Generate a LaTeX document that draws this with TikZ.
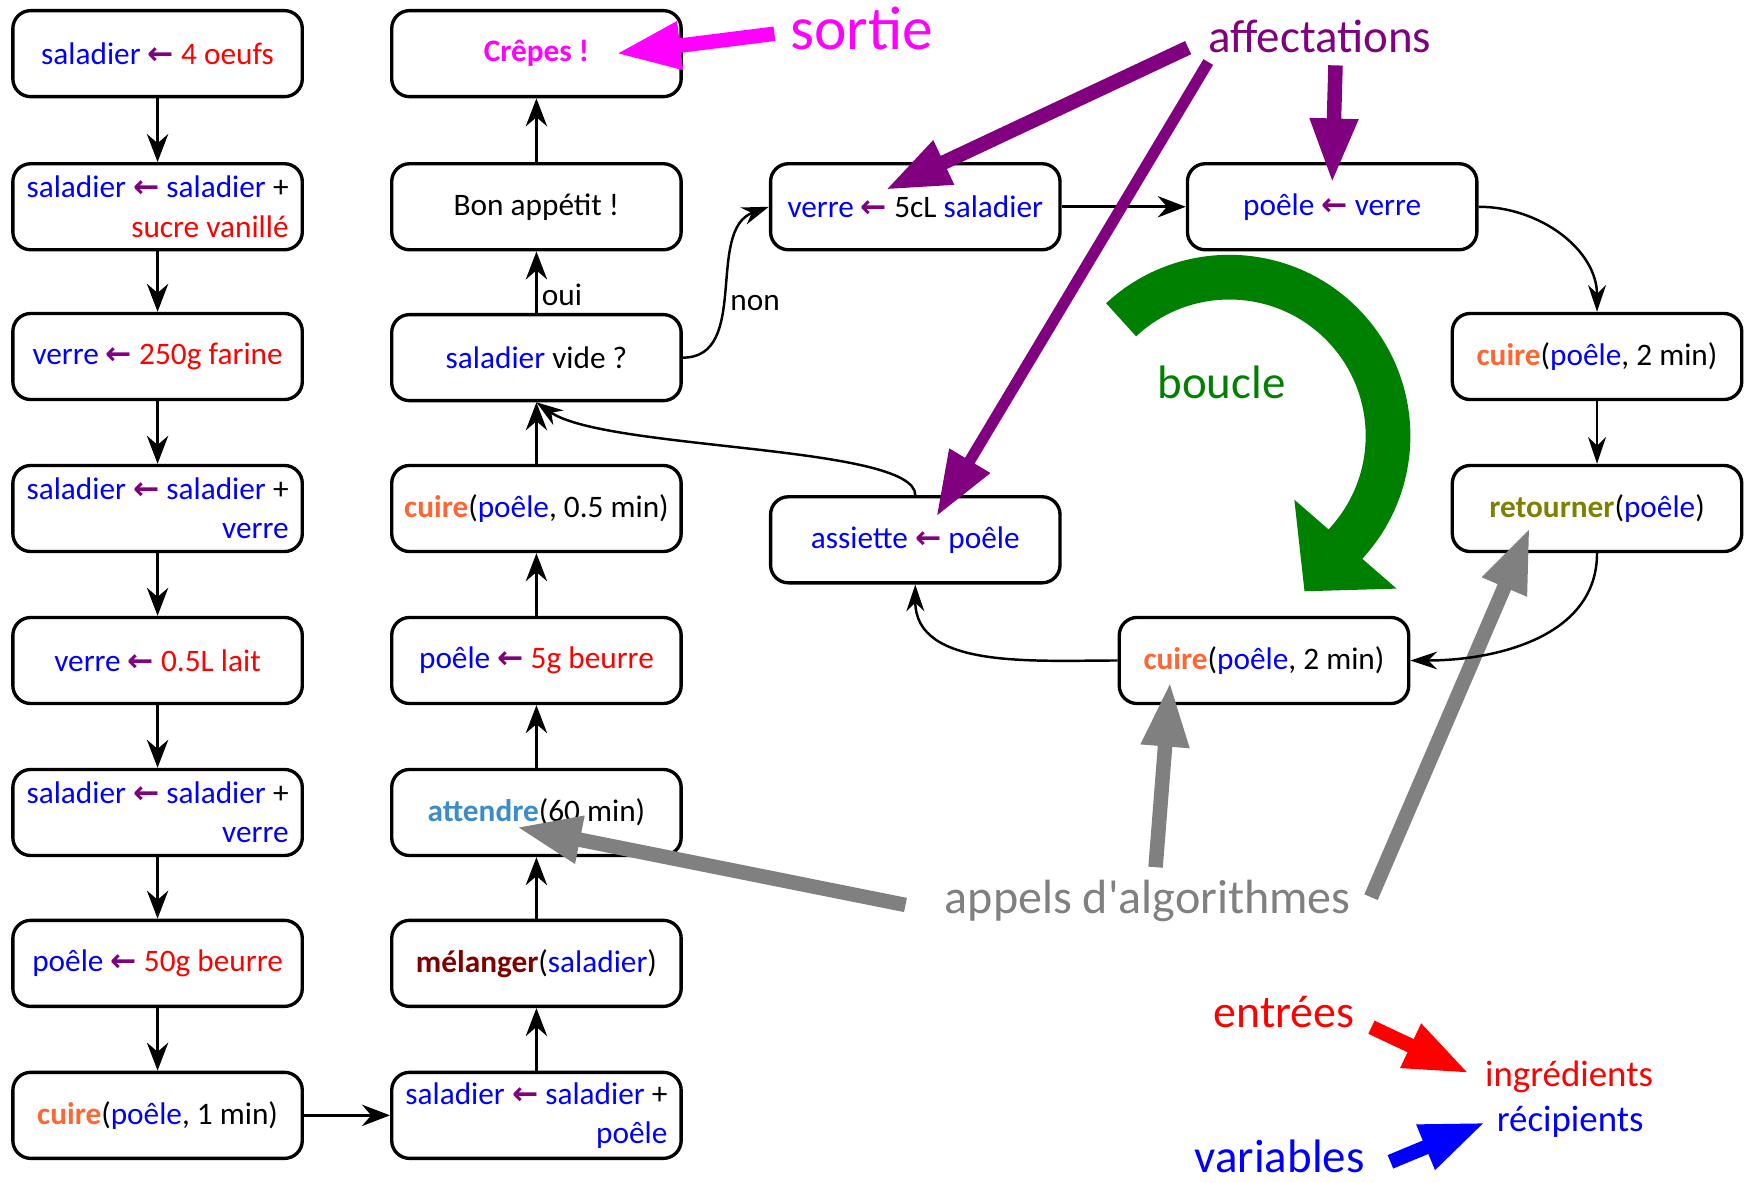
\documentclass[tikz,border=0pt]{standalone}
\usepackage{fontspec}
\setmainfont{Carlito}
\newfontfamily\arrowfont{DejaVu Sans}
\usetikzlibrary{arrows.meta}
\definecolor{varblue}{RGB}{0,0,255}
\definecolor{ingred}{RGB}{255,0,0}
\definecolor{affpurple}{RGB}{128,0,128}
\definecolor{outmag}{RGB}{255,0,255}
\definecolor{cookorange}{RGB}{255,102,51}
\definecolor{waitblue}{RGB}{60,140,200}
\definecolor{mixred}{RGB}{128,0,0}
\definecolor{flipolive}{RGB}{128,128,0}
\definecolor{loopgreen}{RGB}{0,128,0}
\definecolor{callgray}{RGB}{128,128,128}
\newcommand{\va}[1]{\textcolor{varblue}{#1}}
\newcommand{\ing}[1]{\textcolor{ingred}{#1}}
\newcommand{\asg}{\textcolor{affpurple}{\arrowfont\bfseries ←}}
\newcommand{\fn}[2]{\textcolor{#1}{\bfseries #2}}

\begin{document}
\begin{tikzpicture}[x=1pt,y=1pt,
        box/.style={draw,line width=3pt,rounded corners=16pt,fill=white,minimum width=259pt,minimum height=77pt,align=center,font=\fontsize{28}{35}\selectfont},
        arr/.style={line width=3pt,-{Stealth[length=25pt,width=19pt]}},
        tarr/.style={line width=2.2pt,-{Stealth[length=24pt,width=16pt]}},
        note/.style={line width=13pt,-{Triangle[length=58pt,width=40pt]}},
        cond/.style={font=\fontsize{28}{35}\selectfont},
        tag/.style={inner sep=0pt,anchor=base}]
        \useasboundingbox (0,0) rectangle (1565,-1058);
        \node[box](bowla) at (141,-48) {\va{saladier} \asg{} \ing{4 oeufs}};
        \node[box,align=right](bowlb) at (141,-185) {\va{saladier} \asg{} \va{saladier} +\\\ing{sucre vanillé}};
        \node[box](glassa) at (141,-319) {\va{verre} \asg{} \ing{250g farine}};
        \node[box,align=right](bowlc) at (141,-455) {\va{saladier} \asg{} \va{saladier} +\\\va{verre}};
        \node[box](glassb) at (141,-591) {\va{verre} \asg{} \ing{0.5L lait}};
        \node[box,align=right](bowld) at (141,-727) {\va{saladier} \asg{} \va{saladier} +\\\va{verre}};
        \node[box](pana) at (141,-862) {\va{poêle} \asg{} \ing{50g beurre}};
        \node[box](cooka) at (141,-998) {\fn{cookorange}{cuire}(\va{poêle}, 1 min)};
        \node[box,align=right](bowle) at (480,-998) {\va{saladier} \asg{} \va{saladier} +\\\va{poêle}};
        \node[box](mix) at (480,-862) {\fn{mixred}{mélanger}(\va{saladier})};
        \node[box](wait) at (480,-727) {\fn{waitblue}{attendre}(60 min)};
        \node[box](panb) at (480,-591) {\va{poêle} \asg{} \ing{5g beurre}};
        \node[box](cookb) at (480,-455) {\fn{cookorange}{cuire}(\va{poêle}, 0.5 min)};
        \node[box](empty) at (480,-320) {\va{saladier} vide ?};
        \node[box](enjoy) at (480,-185) {Bon appétit !};
        \node[box](crepes) at (480,-48) {\fn{outmag}{Crêpes !}};
        \node[box](glassc) at (819,-185) {\va{verre} \asg{} 5cL \va{saladier}};
        \node[box](panc) at (1192,-185) {\va{poêle} \asg{} \va{verre}};
        \node[box](cookc) at (1429,-319) {\fn{cookorange}{cuire}(\va{poêle}, 2 min)};
        \node[box](flip) at (1429,-455) {\fn{flipolive}{retourner}(\va{poêle})};
        \node[box](cookd) at (1131,-591) {\fn{cookorange}{cuire}(\va{poêle}, 2 min)};
        \node[box](plate) at (819,-483) {\va{assiette} \asg{} \va{poêle}};
        \node[tag,font=\fontsize{55}{60}\selectfont,text=outmag](sortie) at (771,-44) {sortie};
        \node[tag,font=\fontsize{42}{50}\selectfont,text=affpurple](affect) at (1181,-47) {affectations};
        \node[tag,font=\fontsize{42}{50}\selectfont,text=loopgreen](loop) at (1093,-357) {boucle};
        \node[tag,font=\fontsize{43}{50}\selectfont,text=callgray](calls) at (1027,-817) {appels d\textquotesingle algorithmes};
        \node[tag,font=\fontsize{41}{50}\selectfont,text=ingred](inputs) at (1149,-919) {entrées};
        \node[tag,font=\fontsize{42}{50}\selectfont,text=varblue](vars) at (1145,-1049) {variables};
        \node[tag,font=\fontsize{33}{40}\selectfont,text=ingred](ingr) at (1404,-972) {ingrédients};
        \node[tag,font=\fontsize{33}{40}\selectfont,text=varblue](recip) at (1405,-1012) {récipients};
        \coordinate(tcrepes) at (551,-48);
        \coordinate(tglass) at (792,-170);
        \coordinate(tplate) at (838,-462);
        \coordinate(tpan) at (1192,-164);
        \coordinate(twait) at (462,-740);
        \coordinate(tcook) at (1047,-610);
        \coordinate(tflip) at (1369,-472);
        \draw[note,callgray]([shift={(-35,-4)}]calls.west)--(twait);
        \draw[note,callgray]([shift={(7,11)}]calls.north)--(tcook);
        \draw[note,callgray]([shift={(18,3)}]calls.east)--(tflip);
        \draw[arr](bowla)--(bowlb);
        \draw[arr](bowlb)--(glassa);
        \draw[arr](glassa)--(bowlc);
        \draw[arr](bowlc)--(glassb);
        \draw[arr](glassb)--(bowld);
        \draw[arr](bowld)--(pana);
        \draw[arr](pana)--(cooka);
        \draw[arr](cooka)--(bowle);
        \draw[arr](bowle)--(mix);
        \draw[arr](mix)--(wait);
        \draw[arr](wait)--(panb);
        \draw[arr](panb)--(cookb);
        \draw[arr](cookb)--(empty);
        \draw[arr](empty)--node[cond,right,pos=.3]{oui}(enjoy);
        \draw[arr](enjoy)--(crepes);
        \draw[tarr](empty.east) to[out=0,in=200] node[cond,right,pos=.44]{non} (glassc.west);
        \draw[arr](glassc)--(panc);
        \draw[tarr](panc.east) to[out=0,in=90] (cookc.north);
        \draw[tarr](cookc)--(flip);
        \draw[tarr](flip.south) to[out=-90,in=0] (cookd.east);
        \draw[tarr](cookd.west) to[out=180,in=-90] (plate.south);
        \draw[tarr](plate.north) to[out=90,in=-35,out distance=45pt,in distance=75pt] (empty.south);
        \draw[note,outmag]([shift={(-14,-5)}]sortie.west)--(tcrepes);
        \draw[note,affpurple]([shift={(-18,-10)}]affect.west)--(tglass);
        \draw[note,affpurple,line width=10pt]([shift={(0,-8)}]affect.south west)--(tplate);
        \draw[note,affpurple]([shift={(14,-11)}]affect.south)--(tpan);
        \draw[note,ingred]([shift={(15,-14)}]inputs.east)--([shift={(-14,3)}]ingr.west);
        \draw[note,varblue]([shift={(23,-5)}]vars.east)--([shift={(-10,-1)}]recip.west);
        \draw[loopgreen,line width=40pt,-{Triangle[length=56pt,width=118pt]}] (1100,-390) ++(133:142) arc[start angle=133,end angle=-41,radius=142] -- ++(-40,-46);
\end{tikzpicture}
\end{document}
